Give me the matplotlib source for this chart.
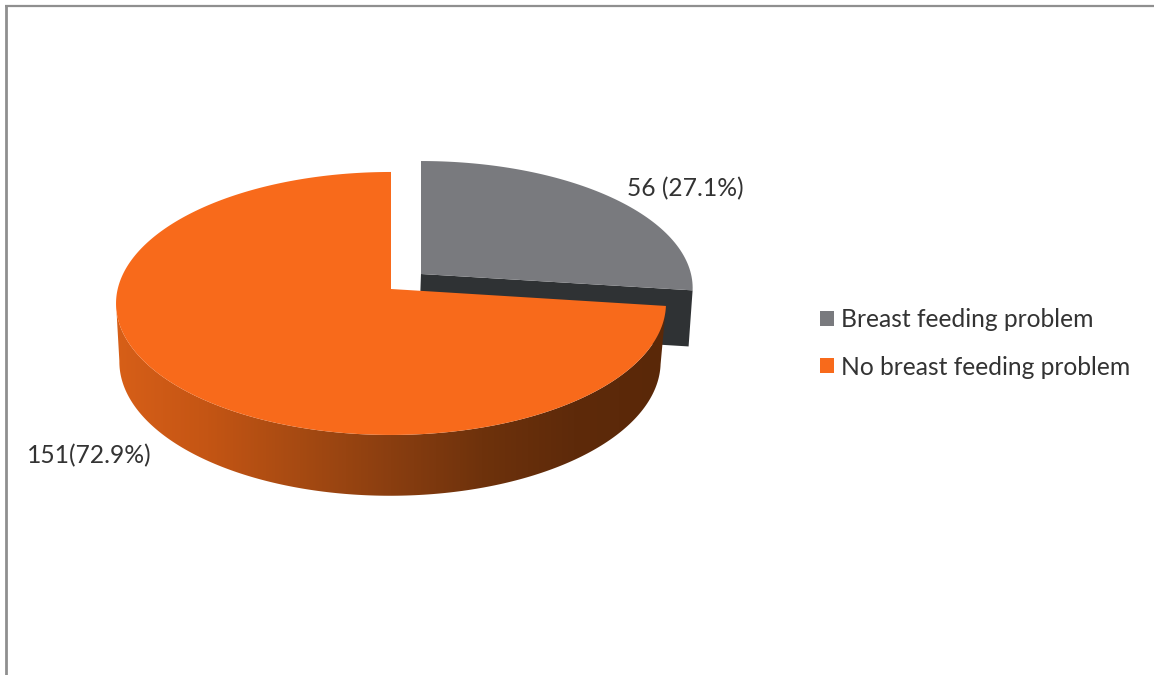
import numpy as np
import matplotlib
matplotlib.use('Agg')
import matplotlib.pyplot as plt
from matplotlib.colors import LinearSegmentedColormap
from matplotlib.patches import Patch, Polygon

plt.rcParams['font.family'] = ['Lato', 'DejaVu Sans']

# Data
categories = ['Breast feeding problem', 'No breast feeding problem']
counts = [56, 151]
value_labels = ['56 (27.1%)', '151(72.9%)']

GREY = '#797A7E'
ORANGE = '#F86A1B'
DARK = '#2F3234'
FRAME = '#8F8F8F'
TEXT = '#333333'
WALL_STOPS = ['#D75F18', '#C45514', '#A64A12', '#8A3E10', '#6E320C', '#5E2A0A', '#5A2808']


def project(theta, cx, cy, rx, ry, persp=0.11):
    # Circle point to screen, the far side is squeezed by the perspective
    u = np.cos(theta)
    v = np.sin(theta)
    w = 1 + persp * v
    return cx + rx * u / w, cy - ry * v / w


fig = plt.figure(figsize=(11.54, 6.75), dpi=100)
ax = fig.add_axes([0, 0, 1, 1])

# Slice boundary: both slices start at 12 o'clock, grey runs clockwise
split = np.pi / 2 - 2 * np.pi * counts[0] / sum(counts)

# Pulled out grey slice
grey_th = np.linspace(np.pi / 2, split, 80)
gx, gy = project(grey_th, 421, 274, 270, 125.4)
corner_top = project(split, 421, 274, 270, 125.4)
corner_bot = project(split, 419, 330, 268, 126)
ax.add_patch(Polygon([(421, 274), corner_top, corner_bot, (419, 330)], fc=DARK, ec='none', zorder=1))
ax.add_patch(Polygon(np.vstack([[421, 274], np.c_[gx, gy]]), fc=GREY, ec='none', zorder=2))

# Side wall of the orange slice with a left to right shading
wall_th = np.linspace(split, np.radians(-174), 200)
tx, ty = project(wall_th, 391, 289, 273.3, 129.9)
bx, by = project(wall_th, 390, 347, 269, 132.4)
wall = Polygon(np.vstack([np.c_[tx, ty], np.c_[bx, by][::-1]]), fc='none', ec='none', zorder=3)
ax.add_patch(wall)
cmap = LinearSegmentedColormap.from_list('wall', WALL_STOPS)
img = ax.imshow(np.linspace(0, 1, 256).reshape(1, -1), cmap=cmap, aspect='auto',
                extent=(116, 666, 500, 280), zorder=3)
img.set_clip_path(wall)

# Orange top
orange_th = np.linspace(split, np.pi / 2 - 2 * np.pi, 300)
ox, oy = project(orange_th, 391, 289, 273.3, 129.9)
ax.add_patch(Polygon(np.vstack([[391, 289], np.c_[ox, oy]]), fc=ORANGE, ec='none', zorder=4))

# Value labels
ax.text(685, 188.5, value_labels[0], fontsize=17.7, color=TEXT, ha='center', va='center', zorder=5)
ax.text(89, 456, value_labels[1], fontsize=17.7, color=TEXT, ha='center', va='center', zorder=5)

# Legend
handles = [Patch(fc=GREY, ec='none'), Patch(fc=ORANGE, ec='none')]
ax.legend(handles, categories, loc='upper left', bbox_to_anchor=(820, 308),
          bbox_transform=ax.transData, frameon=False, fontsize=17.7, labelcolor=TEXT,
          handlelength=0.57, handleheight=0.57, handletextpad=0.28, labelspacing=1.0,
          borderaxespad=0, borderpad=0)

# Chart border, only top and left fall inside the image
ax.plot([5, 1154], [6, 6], color=FRAME, lw=1.6, zorder=6, solid_capstyle='butt')
ax.plot([6, 6], [5, 675], color=FRAME, lw=2, zorder=6, solid_capstyle='butt')

ax.set_xlim(0, 1154)
ax.set_ylim(675, 0)
ax.axis('off')

fig.savefig('out.png', dpi=100)
